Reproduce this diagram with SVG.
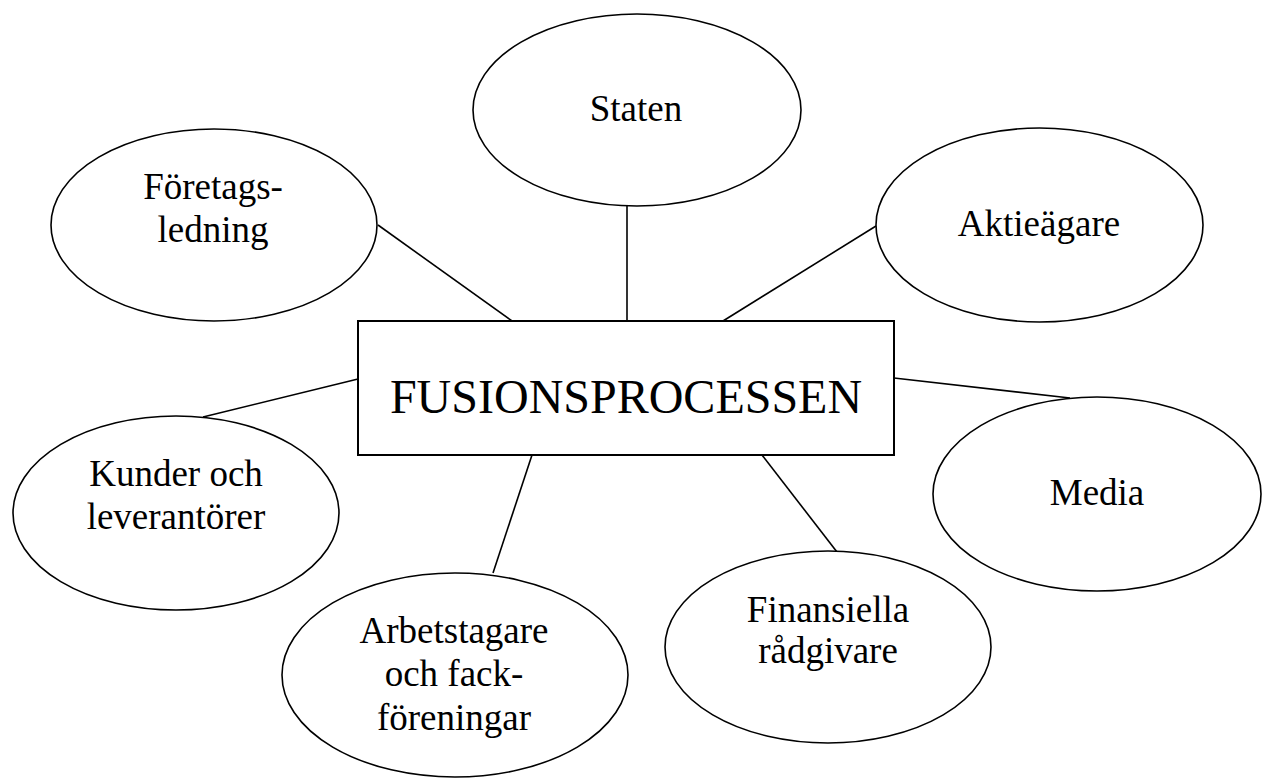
<svg xmlns="http://www.w3.org/2000/svg" width="1267" height="778" viewBox="0 0 1267 778">
<style>
.n{fill:#fff;stroke:#000;stroke-width:1.6}
.r{fill:#fff;stroke:#000;stroke-width:2}
.c line{stroke:#000;stroke-width:1.6}
text{font-family:"Liberation Serif","Times New Roman",serif;font-size:37px;fill:#000;text-anchor:middle}
.big{font-size:48px}
</style>
<rect width="1267" height="778" fill="#fff"/>
<g id="connectors" class="c">
<line x1="627" y1="206" x2="627" y2="321"/>
<line x1="378" y1="225" x2="512" y2="321"/>
<line x1="876" y1="226" x2="723" y2="321"/>
<line x1="358" y1="379" x2="203" y2="417"/>
<line x1="894" y1="378" x2="1070" y2="398"/>
<line x1="762" y1="455" x2="837" y2="552"/>
<line x1="532" y1="455" x2="493" y2="573"/>
</g>
<g id="center">
<rect class="r" x="358" y="321" width="536" height="134"/>
<text class="big" x="626" y="413">FUSIONSPROCESSEN</text>
</g>
<g id="staten">
<ellipse class="n" cx="637" cy="110" rx="164" ry="96"/>
<text x="636" y="121">Staten</text>
</g>
<g id="foretagsledning">
<ellipse class="n" cx="214" cy="225" rx="163" ry="96"/>
<text x="213" y="199">Företags-</text>
<text x="213" y="242">ledning</text>
</g>
<g id="aktieagare">
<ellipse class="n" cx="1039.5" cy="225" rx="163.5" ry="97"/>
<text x="1039" y="236">Aktieägare</text>
</g>
<g id="kunder">
<ellipse class="n" cx="176" cy="513" rx="163" ry="97"/>
<text x="176" y="486">Kunder och</text>
<text x="176" y="529">leverantörer</text>
</g>
<g id="media">
<ellipse class="n" cx="1097" cy="494" rx="164" ry="97"/>
<text x="1097" y="505">Media</text>
</g>
<g id="finansiella">
<ellipse class="n" cx="828" cy="647" rx="163" ry="96"/>
<text x="828" y="622">Finansiella</text>
<text x="828" y="663">rådgivare</text>
</g>
<g id="arbetstagare">
<ellipse class="n" cx="455" cy="675" rx="173" ry="102"/>
<text x="454" y="643">Arbetstagare</text>
<text x="454" y="686">och fack-</text>
<text x="454" y="730">föreningar</text>
</g>
</svg>
